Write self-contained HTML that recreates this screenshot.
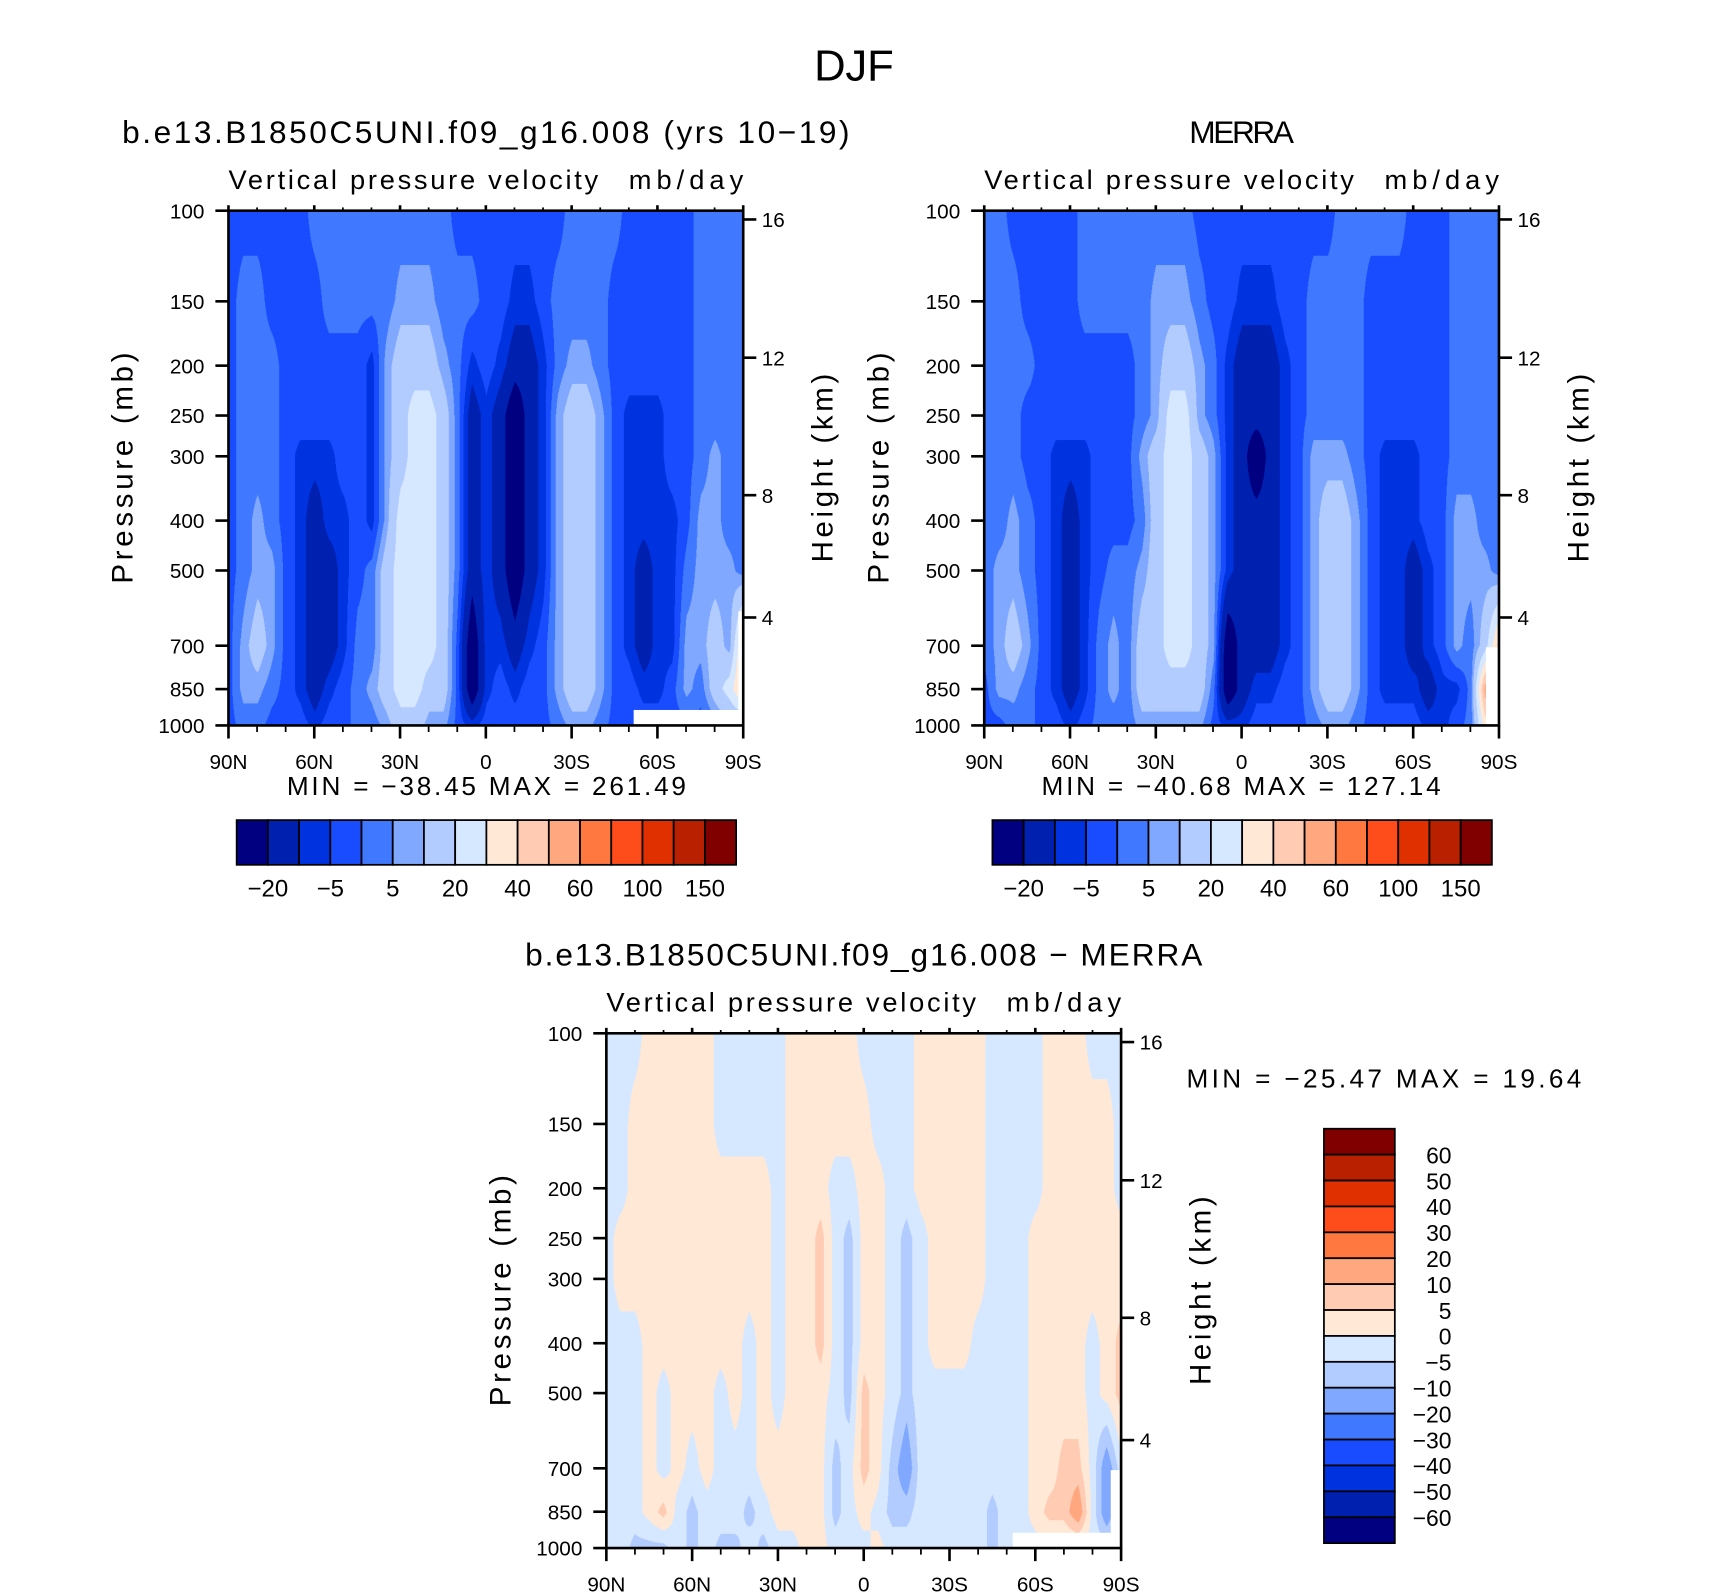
<!DOCTYPE html>
<html><head><meta charset="utf-8">
<style>
html,body{margin:0;padding:0;background:#fff;}
#root{position:relative;width:1710px;height:1596px;overflow:hidden;background:#fff;}
#wrap{position:absolute;left:0;top:0;width:1568px;height:1464px;transform:scale(1.09056);transform-origin:0 0;}
canvas{position:absolute;}
svg{position:absolute;left:0;top:0;}
text{font-family:"Liberation Sans",sans-serif;fill:#000;}
</style></head>
<body>
<div id="root">
<div id="wrap">
<canvas id="c1"></canvas>
<canvas id="c2"></canvas>
<canvas id="c3"></canvas>
<svg id="s" width="1568" height="1464" viewBox="0 0 1568 1464"></svg>
</div>
</div>
<script>
// ---- data ----
const pressureLevels = [100,150,200,250,300,400,500,700,850,1000];
const latCount = 37; // 90N..90S every 5 degrees
const pressureTicks = [100,150,200,250,300,400,500,700,850,1000];
const heightTicks = [16,12,8,4];
const heightTickPressure = [104,193,357,617];
const latTickValues = [90,60,30,0,-30,-60,-90];
const latTickLabels = ["90N","60N","30N","0","30S","60S","90S"];
const colors = ["#000080","#0020b0","#0033e0","#1a4cff","#4078ff","#80a8ff","#b3ccff","#d6e8ff","#ffe8d6","#ffcbb3","#ffa880","#ff7840","#ff4c1a","#e03000","#b82000","#800000"];
const levelsTop = [-20,-10,-5,0,5,10,20,30,40,50,60,80,100,125,150];
const levelsDiff = [-60,-50,-40,-30,-20,-10,-5,0,5,10,20,30,40,50,60];
const cbLabelsTop = ["−20","−5","5","20","40","60","100","150"];
const cbLabelsDiff = ["60","50","40","30","20","10","5","0","−5","−10","−20","−30","−40","−50","−60"];

const modelField = [
[-2,-2,-2,-2,-2,-2,2,2,2,2,2,2,2,2,2,2,-2,-2,-2,-2,-2,-2,-2,-2,2,2,2,2,-2,-2,-2,-2,-2,2,2,2,2],
[-2,2,2,-2,-2,-2,-2,2,2,2,2,2,7,7,7,2,2,2,-2,-2,-7,-7,-2,2,2,2,2,-2,-2,-2,-2,-2,-2,2,2,2,2],
[-2,2,2,2,-2,-2,-2,-2,-2,-2,-7,7,15,15,15,7,2,-7,-2,-7,-15,-15,-7,2,7,7,2,-2,-2,-2,-2,-2,-2,2,2,2,2],
[-2,2,2,2,-2,-2,-2,-2,-2,-2,-7,7,15,25,25,15,2,-15,-7,-15,-30,-15,-7,7,15,15,7,-2,-7,-7,-7,-2,-2,2,2,2,2],
[-2,2,2,2,-2,-7,-7,-7,-2,-2,-7,7,15,25,25,15,2,-15,-7,-15,-30,-15,-7,7,15,15,7,-2,-7,-7,-7,-2,-2,2,7,2,2],
[-2,2,7,2,-2,-7,-15,-7,-7,-2,-7,7,25,25,25,15,2,-15,-7,-15,-30,-15,-7,7,15,15,7,-2,-7,-7,-7,-7,-2,7,7,2,2],
[-2,2,7,7,-2,-7,-15,-15,-7,-2,2,15,25,25,25,15,2,-15,-7,-15,-30,-15,-7,7,15,15,7,-2,-7,-15,-7,-7,2,7,7,7,2],
[-2,7,15,7,-2,-7,-15,-15,-7,2,2,15,25,25,25,15,-2,-30,-7,-7,-15,-7,-2,7,15,15,7,-2,-7,-15,-7,-7,7,7,15,7,45],
[-2,7,7,2,-2,-7,-15,-7,-2,2,7,15,25,25,15,15,-2,-30,-7,-2,-7,-2,-2,7,15,15,7,-2,-2,-7,-7,-2,7,2,15,25,45],
[-2,2,2,-2,-2,-2,-7,-2,-2,2,2,7,15,15,7,7,-2,-7,-2,-2,-2,-2,-2,2,7,7,2,-2,-2,-2,-2,-2,-2,-2,2,7,7]
];
const merraField = [
[2,2,-2,-2,-2,-2,-2,2,2,2,2,2,2,2,2,-2,-2,-2,-2,-2,-2,-2,-2,-2,-2,2,2,2,2,2,-2,-2,-2,2,2,2,2],
[2,2,2,-2,-2,-2,-2,2,2,2,2,2,7,7,7,2,-2,-2,-7,-7,-7,-2,-2,2,2,2,2,-2,-2,-2,-2,-2,-2,2,2,2,2],
[2,2,2,2,-2,-2,-2,-2,-2,-2,-2,2,7,15,15,7,2,-7,-15,-15,-15,-7,-2,2,2,2,2,-2,-2,-2,-2,-2,-2,2,2,2,2],
[2,2,2,-2,-2,-2,-2,-2,-2,-2,-2,2,7,25,25,7,2,-7,-15,-15,-15,-7,-2,2,2,2,2,-2,-2,-2,-2,-2,-2,2,2,2,2],
[2,2,2,-2,-2,-7,-7,-7,-2,-2,-2,7,15,25,25,15,7,-7,-15,-30,-15,-7,-2,7,7,7,2,-2,-7,-7,-7,-2,-2,2,2,2,2],
[2,2,7,2,-2,-7,-15,-7,-2,-2,-2,2,15,25,25,15,7,-7,-15,-15,-15,-7,-2,7,15,15,7,-2,-7,-7,-7,-2,-2,7,7,2,2],
[2,7,7,2,-2,-7,-15,-7,-2,2,2,7,15,25,25,15,7,-7,-15,-15,-15,-7,-2,7,15,15,7,-2,-7,-7,-15,-7,-2,7,7,7,2],
[2,7,15,7,-2,-7,-15,-7,2,7,2,15,15,25,25,15,7,-30,-15,-15,-15,-7,-2,7,15,15,7,-2,-7,-7,-15,-7,-2,7,2,15,45],
[-2,7,7,2,-2,-7,-15,-7,2,7,2,15,15,15,15,15,2,-30,-15,-7,-7,-2,-2,7,15,15,7,-2,-7,-7,-7,-15,-7,-7,2,55,45],
[-2,-2,2,2,-2,-2,-7,-2,2,2,2,7,7,7,7,7,-2,-7,-7,-2,-2,-2,-2,2,7,7,2,-2,-2,-2,-2,-7,-7,-2,2,35,45]
];
const diffField = [
[-2,-2,-2,2,2,2,2,2,-2,-2,-2,-2,-2,2,2,2,2,2,-2,-2,-2,-2,2,2,2,2,2,-2,-2,-2,-2,2,2,2,-2,-2,-2],
[-2,-2,2,2,2,2,2,2,-2,-2,-2,-2,-2,2,2,2,2,2,2,-2,-2,-2,2,2,2,2,2,-2,-2,-2,-2,2,2,2,2,2,-2],
[-2,-2,2,2,2,2,2,2,2,2,2,2,-2,2,2,2,-2,-2,2,2,-2,-2,2,2,2,2,2,-2,-2,-2,-2,2,2,2,2,2,-2],
[-2,2,2,2,2,2,2,2,2,2,2,2,-2,2,2,7,-2,-7,2,2,-2,-7,-2,2,2,2,2,-2,-2,-2,2,2,2,2,2,2,2],
[-2,2,2,2,2,2,2,2,2,2,2,2,-2,2,2,7,-2,-7,2,2,-2,-7,-2,2,2,2,2,-2,-2,-2,2,2,2,2,2,2,2],
[-2,-2,-2,2,2,2,2,2,2,2,-2,2,-2,2,2,7,-2,-7,2,2,-2,-7,-2,2,2,2,-2,-2,-2,-2,2,2,2,2,-2,2,7],
[-2,-2,-2,2,-2,2,2,2,-2,2,-2,2,-2,2,2,2,-2,-7,7,2,-2,-7,-2,-2,-2,-2,-2,-2,-2,-2,2,2,2,2,-2,2,7],
[-2,-2,-2,2,-2,2,-2,2,-2,-2,-2,2,2,2,2,2,-7,-2,7,2,-7,-15,-2,-2,-2,-2,-2,-2,-2,-2,2,2,7,7,-2,-15,-2],
[-2,-2,-2,2,7,-2,-7,-2,-2,-2,-7,-2,2,2,2,2,-7,-2,2,-2,-7,-7,-2,-2,-2,-2,-2,-7,-2,-2,2,7,7,15,-2,-15,-2],
[-2,-2,-7,-7,-7,-2,-7,-2,-7,-7,-2,-7,-2,-2,2,2,-2,-2,-2,2,-2,-2,-2,-2,-2,-2,-2,-7,-2,-2,-2,-2,-2,-2,-2,-2,-2]
];
// missing (below-surface) regions: [latFrom, latTo, pTop, pBottom]
const modelMask = [[-51.5,-89.5,933,1000],[-88,-90,601,1000]];
const merraMask = [[-85.2,-90,705,1000]];
const diffMask = [[-52,-90,931,1000],[-86.4,-90,703,1000]];

// ---- layout ----
const panels = [
 {id:"c1", name:"model", x:209.5, y:193.2, s:472, field:modelField, lev:levelsTop, mask:modelMask},
 {id:"c2", name:"merra", x:902.5, y:193.2, s:472, field:merraField, lev:levelsTop, mask:merraMask},
 {id:"c3", name:"difference", x:556, y:947.5, s:472, field:diffField, lev:levelsDiff, mask:diffMask}
];
const NS="http://www.w3.org/2000/svg";
const svg=document.getElementById('s');
function el(tag,attrs,parent){const e=document.createElementNS(NS,tag);for(const k in attrs)e.setAttribute(k,attrs[k]);(parent||svg).appendChild(e);return e;}
function txt(str,x,y,size,anchor,parent,extra){const t=el('text',Object.assign({x:x,y:y,'font-size':size,'text-anchor':anchor||'middle'},extra||{}),parent);t.textContent=str;return t;}
function stretch(len){return {textLength:len,lengthAdjust:'spacing'};}
function classify(v,lev){let k=0;while(k<lev.length&&v>=lev[k])k++;return k;}
function hex(c){return [parseInt(c.substr(1,2),16),parseInt(c.substr(3,2),16),parseInt(c.substr(5,2),16)];}
const rgb=colors.map(hex);

function drawField(p){
  const cv=document.getElementById(p.id);
  const R=2; const W=Math.round(p.s*R);
  cv.width=W;cv.height=W;
  cv.style.left=p.x+'px';cv.style.top=p.y+'px';cv.style.width=p.s+'px';cv.style.height=p.s+'px';
  const ctx=cv.getContext('2d');const img=ctx.createImageData(W,W);
  const lp=pressureLevels.map(v=>Math.log10(v));
  for(let py=0;py<W;py++){
    const lpp=2+(py+0.5)/W; const pres=Math.pow(10,lpp);
    let r=0;while(r<lp.length-2&&lpp>lp[r+1])r++;
    const fy=Math.min(1,Math.max(0,(lpp-lp[r])/(lp[r+1]-lp[r])));
    for(let px=0;px<W;px++){
      const lat=90-(px+0.5)/W*180;
      const fx=(px+0.5)/W*(latCount-1);
      let c=Math.min(latCount-2,Math.floor(fx));const tx=fx-c;
      const a=p.field[r][c]*(1-tx)+p.field[r][c+1]*tx;
      const b=p.field[r+1][c]*(1-tx)+p.field[r+1][c+1]*tx;
      const v=a*(1-fy)+b*fy;
      let col=rgb[classify(v,p.lev)];
      for(const m of p.mask){if(lat<=m[0]&&lat>=m[1]&&pres>=m[2]&&pres<=m[3]){col=[255,255,255];break;}}
      const i=(py*W+px)*4;img.data[i]=col[0];img.data[i+1]=col[1];img.data[i+2]=col[2];img.data[i+3]=255;
    }
  }
  ctx.putImageData(img,0,0);
}

function drawAxes(p,title,titleLen){
  const g=el('g',{});
  
  
  const X=lat=>p.x+(90-lat)/180*p.s;
  const Y=pr=>p.y+(Math.log10(pr)-2)*p.s;
  el('rect',{x:p.x,y:p.y,width:p.s,height:p.s,fill:'none',stroke:'#000','stroke-width':2.4},g);
  for(let lat=90;lat>=-90;lat-=10){
    const major=(lat%30===0);const x=X(lat);
    el('line',{x1:x,y1:p.y+p.s,x2:x,y2:p.y+p.s+(major?12:6),stroke:'#000','stroke-width':major?2.4:1.6},g);
    el('line',{x1:x,y1:p.y,x2:x,y2:p.y-(major?5:3),stroke:'#000','stroke-width':major?2.4:1.6},g);
  }
  latTickValues.forEach((lat,i)=>{const t=txt(latTickLabels[i],X(lat),p.y+p.s+40,19,'middle',g);
    });
  pressureTicks.forEach(pr=>{const y=Y(pr);
    el('line',{x1:p.x-12,y1:y,x2:p.x,y2:y,stroke:'#000','stroke-width':2.4},g);
    const t=txt(String(pr),p.x-22,y+7,19,'end',g);
    });
  heightTicks.forEach((h,i)=>{const y=Y(heightTickPressure[i]);
    el('line',{x1:p.x+p.s,y1:y,x2:p.x+p.s+12,y2:y,stroke:'#000','stroke-width':2.4},g);
    const t=txt(String(h),p.x+p.s+17,y+7,19,'start',g);
    });
  const t1=txt(title,p.x+p.s/2,p.y-62,29,'middle',g,stretch(titleLen));
  
  const t2=txt('Vertical pressure velocity',p.x,p.y-20,25,'start',g,stretch(339));
  
  const t3=txt('mb/day',p.x+p.s,p.y-20,25,'end',g,stretch(105));
  
  const cy=p.y+p.s/2;
  const ty=txt('Pressure (mb)',0,0,27,'middle',g,Object.assign({transform:`translate(${p.x-88},${cy}) rotate(-90)`},stretch(212)));
  
  const th=txt('Height (km)',0,0,27,'middle',g,Object.assign({transform:`translate(${p.x+p.s+82},${cy}) rotate(-90)`},stretch(173)));
  
  return g;
}

function horizColorbar(x0,y0,w,h,labels,name){
  const g=el('g',{});
  
  
  const bw=w/colors.length;
  colors.forEach((c,i)=>{const r=el('rect',{x:x0+i*bw,y:y0,width:bw,height:h,fill:c,stroke:'#000','stroke-width':1.6},g);
    });
  labels.forEach((l,i)=>{const t=txt(l,x0+(2*i+1)*bw,y0+h+29,22,'middle',g);
    });
}

panels.forEach(drawField);
const tDJF=txt('DJF',783,74,40,'middle',svg,stretch(73));

drawAxes(panels[0],'b.e13.B1850C5UNI.f09_g16.008 (yrs 10−19)',667);
drawAxes(panels[1],'MERRA',96);
drawAxes(panels[2],'b.e13.B1850C5UNI.f09_g16.008 − MERRA',621);

const mm1=txt('MIN = −38.45   MAX = 261.49',446,729,24,'middle',svg,Object.assign({'xml:space':'preserve'},stretch(366)));

const mm2=txt('MIN = −40.68   MAX = 127.14',1138,729,24,'middle',svg,Object.assign({'xml:space':'preserve'},stretch(366)));

const mm3=txt('MIN = −25.47   MAX =  19.64',1088,997,24,'start',svg,Object.assign({'xml:space':'preserve'},stretch(362)));


horizColorbar(217,752,458,41,cbLabelsTop,'model-colorbar');
horizColorbar(910,752,458,41,cbLabelsTop,'merra-colorbar');

(function(){
  const g=el('g',{});
  
  
  const x0=1214,y0=1035,w=65,h=380,bh=h/colors.length;
  for(let i=0;i<colors.length;i++){
    const r=el('rect',{x:x0,y:y0+i*bh,width:w,height:bh,fill:colors[colors.length-1-i],stroke:'#000','stroke-width':1.6},g);
    
  }
  cbLabelsDiff.forEach((l,i)=>{const t=txt(l,1331,y0+(i+1)*bh+8,21,'end',g);
    });
})();
</script>
</body></html>
